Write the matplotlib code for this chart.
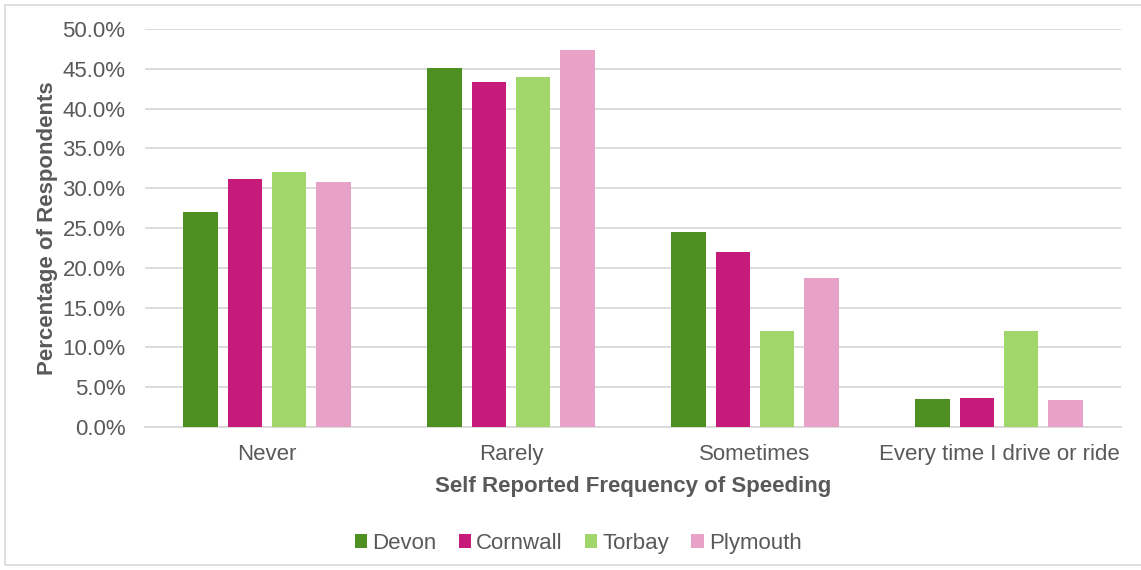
import matplotlib.pyplot as plt
import numpy as np
from matplotlib.ticker import FuncFormatter
from matplotlib.patches import Rectangle

plt.rcParams['font.family'] = ['Liberation Sans', 'DejaVu Sans']

categories = ["Never", "Rarely", "Sometimes", "Every time I drive or ride"]
areas = ["Devon", "Cornwall", "Torbay", "Plymouth"]
devon = [27.0, 45.1, 24.5, 3.5]
cornwall = [31.2, 43.3, 22.0, 3.7]
torbay = [32.0, 44.0, 12.1, 12.1]
plymouth = [30.8, 47.4, 18.7, 3.4]
colours = ["#4e8f21", "#c71b7b", "#a1d66b", "#e8a2c7"]

grey = "#595959"
fs = 16
fig = plt.figure(figsize=(11.41, 5.70), dpi=100)
ax = fig.add_axes([145 / 1141, 1 - 427 / 570, (1121 - 145) / 1141, (427 - 29) / 570])

# light frame round the whole chart
fig.patches.append(Rectangle((5 / 1141, 5 / 570), 1.2, 1 - 10 / 570, transform=fig.transFigure,
                             fill=False, edgecolor="#d9d9d9", lw=1.2))

x = np.arange(len(categories))
step = 0.181
width = 0.142
for i, (vals, name) in enumerate(zip([devon, cornwall, torbay, plymouth], areas)):
    ax.bar(x + (i - 1.5) * step, vals, width, color=colours[i], label=name, zorder=3)

ax.set_xlim(-0.5, 3.5)
ax.set_ylim(0, 50)
ax.set_yticks(np.arange(0, 50.1, 5))
ax.yaxis.set_major_formatter(FuncFormatter(lambda v, p: f"{v:.1f}%"))
ax.set_xticks(x)
ax.set_xticklabels(categories)
ax.grid(axis="y", color="#d9d9d9", lw=1.3, zorder=0)
for s in ["top", "right", "left"]:
    ax.spines[s].set_visible(False)
ax.spines["bottom"].set_color("#d9d9d9")
ax.spines["bottom"].set_linewidth(1.3)
ax.tick_params(axis="both", length=0, labelsize=fs, colors=grey)
ax.tick_params(axis="y", pad=14)
ax.tick_params(axis="x", pad=12)

ax.set_ylabel("Percentage of Respondents", fontsize=fs, fontweight="bold", color=grey, labelpad=3)
ax.set_xlabel("Self Reported Frequency of Speeding", fontsize=fs, fontweight="bold", color=grey, labelpad=8)

leg = ax.legend(loc="center", bbox_to_anchor=(0.444, -0.2925), ncol=4, frameon=False,
                fontsize=fs, handlelength=0.55, handleheight=0.55, handletextpad=0.23,
                columnspacing=1.0)
for t in leg.get_texts():
    t.set_color(grey)

fig.savefig("out.png", dpi=100)
